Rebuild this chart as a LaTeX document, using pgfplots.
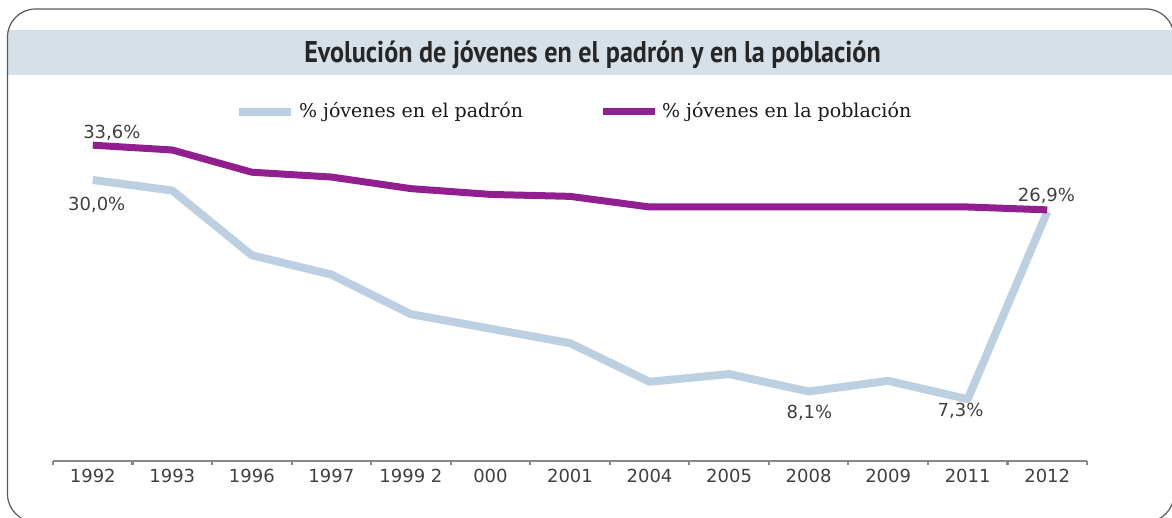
\documentclass[border=0pt]{standalone}
\usepackage{fontspec}
\usepackage{pgfplots}
\pgfplotsset{compat=1.18}
\setmainfont{DejaVu Sans}
\newfontfamily\titlefont{PT Sans}
\newfontfamily\legfont{DejaVu Serif}
\newfontfamily\numfont{DejaVu Sans}
\definecolor{padron}{HTML}{BCD0E1}
\definecolor{poblacion}{HTML}{921F8F}
\definecolor{band}{HTML}{D5E0E8}
\definecolor{txt}{HTML}{404040}
\definecolor{axisgray}{HTML}{8A8A8A}
\begin{document}
\begin{tikzpicture}
\useasboundingbox (0,0) rectangle (586pt,259pt);
% header band and frame
\fill[band] (4pt,221.5pt) rectangle (586pt,244pt);
\draw[color=black!65, line width=0.6pt, rounded corners=14pt] (3.75pt,-2pt) rectangle (587pt,254.5pt);
\node[anchor=base, text=black!85, inner sep=0pt] at (296.25pt,227.5pt)
  {\scalebox{0.87}[1]{\titlefont\bfseries\fontsize{15}{18}\selectfont Evolución de jóvenes en el padrón y en la población}};
\begin{axis}[
  at={(26.5pt,28.5pt)}, anchor=south west,
  scale only axis, width=517pt, height=169.5pt,
  xmin=-0.5, xmax=12.5, ymin=0.9, ymax=36,
  axis x line=bottom, axis y line=none,
  axis line style={-, color=axisgray, line width=1.1pt},
  xtick={-0.5,0.5,...,12.5},
  x tick label as interval,
  xticklabels={1992,1993,1996,1997,1999 2,000,2001,2004,2005,2008,2009,2011,2012},
  tick align=outside, major tick length=2pt,
  tick style={color=axisgray, line width=1.1pt},
  x tick label style={font=\numfont\fontsize{9}{10}\selectfont, text=txt, yshift=1.5pt},
  legend columns=2,
  legend style={at={(0.505,1.03)}, anchor=center, draw=none, fill=none,
    font=\legfont\fontsize{9.5}{11}\selectfont, text=black!90,
    /tikz/every even column/.append style={column sep=36pt}},
  legend image code/.code={\draw[#1] (0pt,0pt) -- (26pt,0pt);},
  clip=false,
]
\addplot[color=padron, line width=4pt, line join=round] coordinates {
  (0,30.0) (1,28.9) (2,22.2) (3,20.2) (4,16.1) (5,14.6) (6,13.1)
  (7,9.1) (8,9.9) (9,8.1) (10,9.2) (11,7.3) (12,26.7)
};
\addlegendentry{\% jóvenes en el padrón}
\addplot[color=poblacion, line width=3.5pt, line join=round] coordinates {
  (0,33.6) (1,33.1) (2,30.8) (3,30.3) (4,29.1) (5,28.5) (6,28.3)
  (7,27.2) (8,27.2) (9,27.2) (10,27.2) (11,27.2) (12,26.9)
};
\addlegendentry{\% jóvenes en la población}
\begin{scope}[every node/.style={font=\numfont\fontsize{9}{10}\selectfont, text=txt, inner sep=0pt}]
\node at (axis cs:0.24,34.87) {33,6\%};
\node at (axis cs:0.05,27.4) {30,0\%};
\node at (axis cs:11.99,28.34) {26,9\%};
\node at (axis cs:9.01,5.85) {8,1\%};
\node at (axis cs:10.91,6.06) {7,3\%};
\end{scope}
\end{axis}
\end{tikzpicture}
\end{document}
